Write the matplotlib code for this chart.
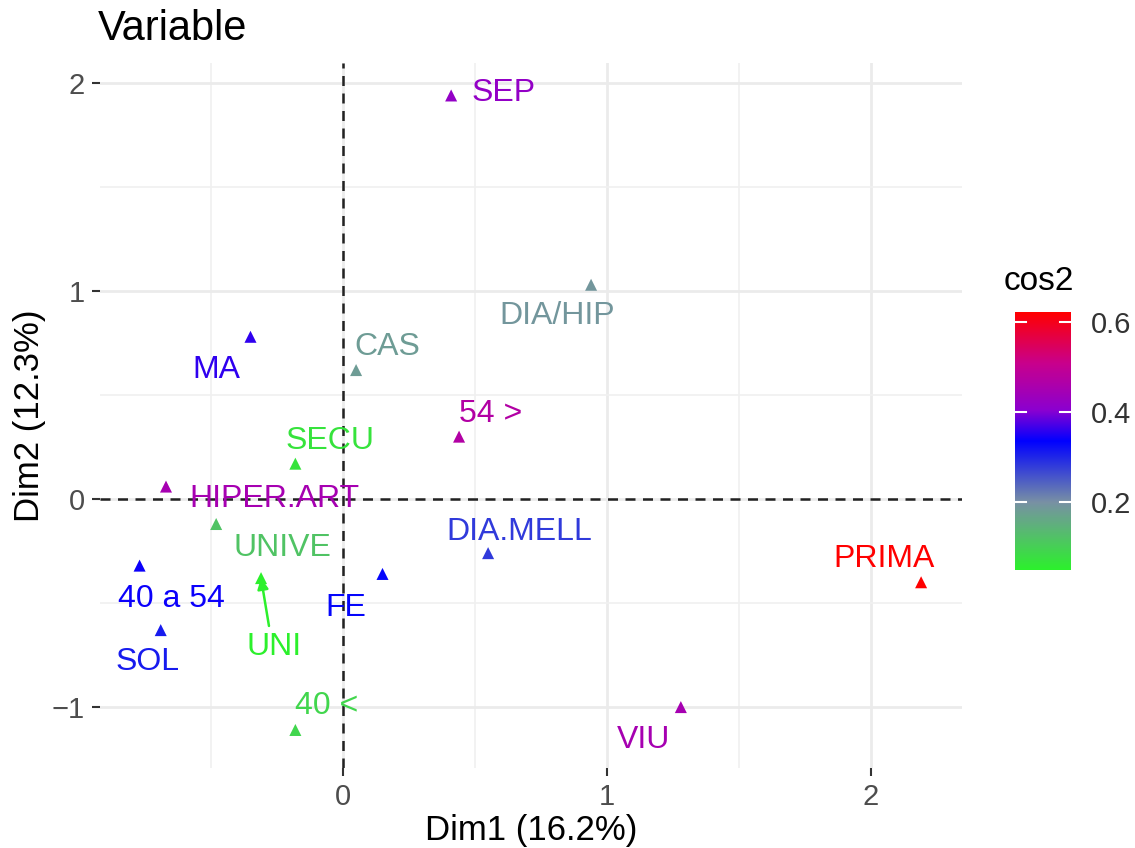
import numpy as np
import matplotlib.pyplot as plt
from matplotlib.colors import LinearSegmentedColormap, Normalize

plt.rcParams['font.family'] = ['Liberation Sans', 'DejaVu Sans']

# MCA variable categories: coordinates on Dim1/Dim2 and cos2
labels = ['SEP', 'DIA/HIP', 'MA', 'CAS', '54 >', 'SECU', 'HIPER.ART', 'UNIVE',
          'DIA.MELL', 'PRIMA', 'FE', '40 a 54', 'SOL', 'UNI', '40 <', 'VIU']
dim1 = [0.41, 0.94, -0.35, 0.05, 0.44, -0.18, -0.67, -0.48,
        0.55, 2.19, 0.15, -0.77, -0.69, -0.31, -0.18, 1.28]
dim2 = [1.94, 1.03, 0.78, 0.62, 0.30, 0.17, 0.06, -0.12,
        -0.26, -0.40, -0.36, -0.32, -0.63, -0.38, -1.11, -1.00]
cos2 = [0.42, 0.19, 0.36, 0.18, 0.47, 0.07, 0.45, 0.12,
        0.28, 0.62, 0.33, 0.34, 0.31, 0.05, 0.09, 0.45]

# label placement (data units, repelled text positions)
lab_x = [0.61, 0.81, -0.48, 0.17, 0.56, -0.05, -0.26, -0.23,
         0.67, 2.05, 0.01, -0.65, -0.74, -0.26, -0.06, 1.14]
lab_y = [1.95, 0.88, 0.62, 0.73, 0.41, 0.28, 0.00, -0.235,
         -0.16, -0.29, -0.525, -0.48, -0.785, -0.71, -0.995, -1.16]

cmap = LinearSegmentedColormap.from_list('cos2', [
    (0.0, '#2cf02c'), (0.26, '#7890a4'), (0.5, '#0000ff'),
    (0.62, '#8a00d0'), (0.80, '#c8008c'), (1.0, '#ff0000')])
norm = Normalize(vmin=0.049, vmax=0.622)

fig = plt.figure(figsize=(11.35, 8.48), dpi=100)
ax = fig.add_axes([0.0881, 0.0943, 0.7595, 0.8314])

ax.set_xlim(-0.92, 2.345)
ax.set_ylim(-1.293, 2.096)
ax.set_xticks([0, 1, 2])
ax.set_yticks([-1, 0, 1, 2])
ax.set_xticks([-0.5, 0.5, 1.5], minor=True)
ax.set_yticks([-0.5, 0.5, 1.5], minor=True)
ax.grid(which='major', color='#ebebeb', lw=2.0)
ax.grid(which='minor', color='#f0f0f0', lw=1.2)
ax.set_axisbelow(True)
for s in ax.spines.values():
    s.set_visible(False)
ax.tick_params(which='major', length=6, width=1.5, color='#333333',
               labelsize=21, labelcolor='#4d4d4d', pad=5)
ax.tick_params(which='minor', length=0)

ax.axhline(0, color='#222222', ls=(0, (4, 3)), lw=1.8, zorder=1)
ax.axvline(0, color='#222222', ls=(0, (4, 3)), lw=1.8, zorder=1)

cols = cmap(norm(np.array(cos2)))
sc = ax.scatter(dim1, dim2, c=cos2, cmap=cmap, norm=norm, marker='^', s=75,
                linewidths=0, zorder=3)

for i, name in enumerate(labels):
    ax.text(lab_x[i], lab_y[i], name, color=cols[i], fontsize=23,
            ha='center', va='center', zorder=4)

# segment from UNI label to its point
i = labels.index('UNI')
ax.annotate('', xy=(dim1[i], dim2[i]), xytext=(lab_x[i] - 0.02, lab_y[i] + 0.1),
            arrowprops=dict(arrowstyle='-|>', color=cols[i], lw=1.8,
                            mutation_scale=16, shrinkA=0, shrinkB=0), zorder=4)

ax.set_xlabel('Dim1 (16.2%)', fontsize=25, labelpad=2)
ax.set_ylabel('Dim2 (12.3%)', fontsize=25, labelpad=4)
fig.text(0.086, 0.966, 'Variable', fontsize=30, ha='left', va='center')

cax = fig.add_axes([0.894, 0.328, 0.050, 0.304])
cb = fig.colorbar(sc, cax=cax)
cb.set_ticks([0.2, 0.4, 0.6])
cb.outline.set_visible(False)
cb.ax.tick_params(length=0, labelsize=21, labelcolor='#333333', pad=14)
for t in [0.2, 0.4, 0.6]:
    cax.axhline(t, xmin=0, xmax=0.2, color='white', lw=1.5)
    cax.axhline(t, xmin=0.8, xmax=1, color='white', lw=1.5)
cb.ax.set_title('cos2', fontsize=24, loc='left', pad=16, x=-0.2)

plt.savefig('out.png', dpi=100)
